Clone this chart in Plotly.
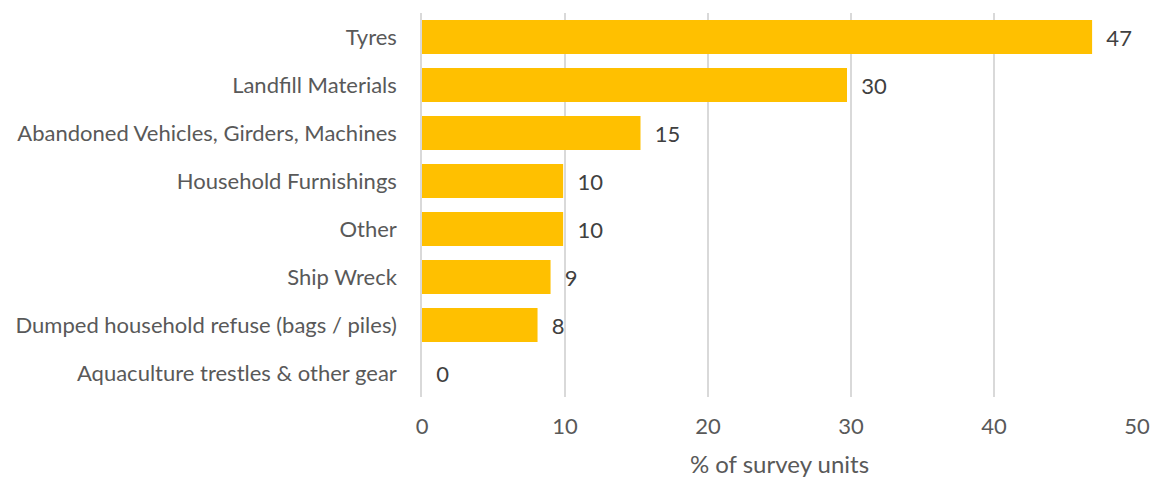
import plotly.graph_objects as go

categories = [
    "Tyres",
    "Landfill Materials",
    "Abandoned Vehicles, Girders, Machines",
    "Household Furnishings",
    "Other",
    "Ship Wreck",
    "Dumped household refuse (bags / piles)",
    "Aquaculture trestles & other gear",
]
percent_units = [46.86, 29.72, 15.28, 9.87, 9.87, 8.99, 8.08, 0.0]
x_ticks = [0, 10, 20, 30, 40, 50]

FONT = "Lato, Open Sans, sans-serif"

fig = go.Figure(
    go.Bar(
        y=categories,
        x=percent_units,
        orientation="h",
        marker=dict(color="#FFC000", line=dict(width=0)),
        width=0.71,
        texttemplate="  %{x:.0f}",
        textposition="outside",
        cliponaxis=False,
        textfont=dict(family=FONT, size=22, color="#404040"),
        hoverinfo="skip",
    )
)

fig.update_layout(
    width=1156,
    height=480,
    margin=dict(l=422, r=19, t=13, b=83),
    paper_bgcolor="white",
    plot_bgcolor="white",
    showlegend=False,
    font=dict(family=FONT, color="#595959"),
    xaxis=dict(
        range=[0, 50],
        tickvals=x_ticks,
        automargin=False,
        showgrid=True,
        gridcolor="#D9D9D9",
        gridwidth=1.5,
        zeroline=False,
        ticks="outside",
        ticklen=10,
        tickcolor="rgba(0,0,0,0)",
        tickfont=dict(family=FONT, size=22, color="#595959"),
        title=dict(
            text="% of survey units",
            font=dict(family=FONT, size=24, color="#595959"),
            standoff=17,
        ),
    ),
    yaxis=dict(
        categoryorder="array",
        categoryarray=categories[::-1],
        autorange=True,
        automargin=False,
        showgrid=False,
        zeroline=False,
        ticks="outside",
        ticklen=19,
        tickcolor="rgba(0,0,0,0)",
        tickfont=dict(family=FONT, size=22, color="#595959"),
        showline=True,
        linecolor="#D9D9D9",
        linewidth=1.5,
    ),
    bargap=0.29,
)

fig.write_html("out.html")
